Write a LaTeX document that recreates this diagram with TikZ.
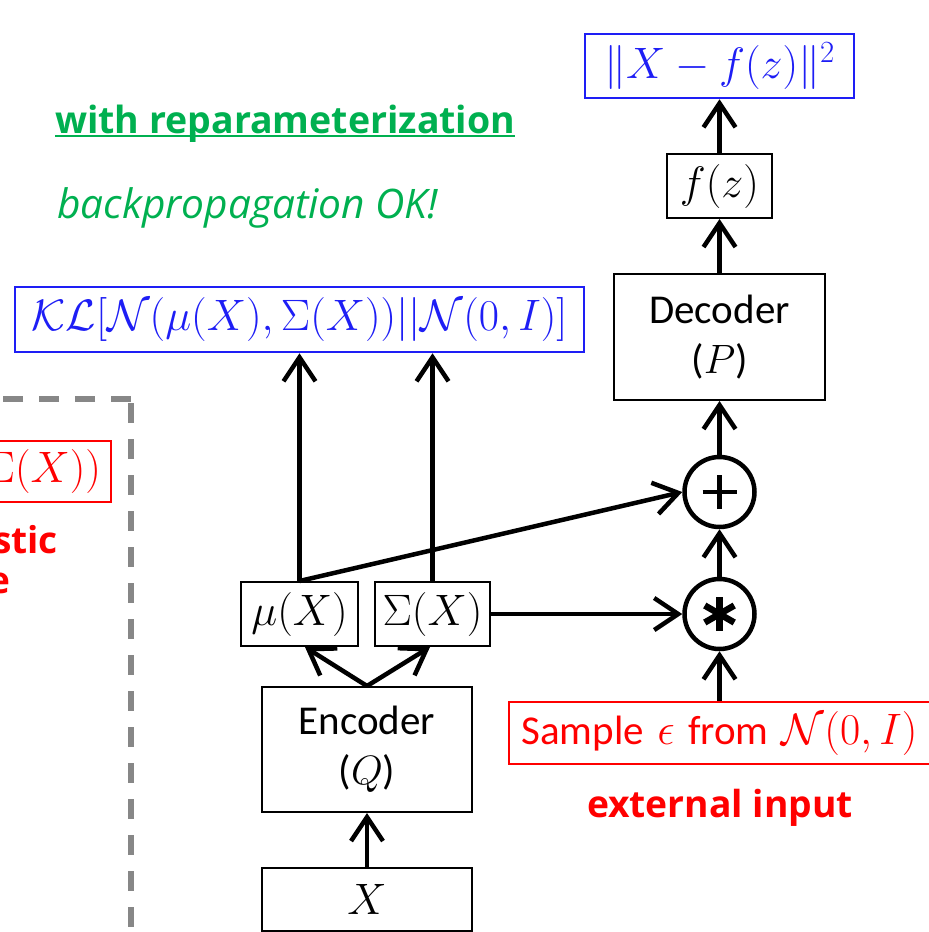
\RequirePackage{fix-cm}
\documentclass[tikz,border=0pt]{standalone}
\usepackage{fontspec}
\usepackage{graphicx}
\setsansfont{Open Sans}
\newfontfamily\calfont{Carlito}
\usetikzlibrary{arrows.meta}
\definecolor{kblue}{RGB}{30,30,245}
\definecolor{kred}{RGB}{255,0,0}
\definecolor{kgreen}{RGB}{0,176,80}
\definecolor{kgray}{RGB}{135,135,135}
\newcommand\mathsz{\fontsize{44}{50}\selectfont}
\newcommand\calsz{\calfont\fontsize{41}{50}\selectfont}
\begin{document}
\begin{tikzpicture}[x=1pt,y=-1pt,
  arr/.style={line width=4.5pt,-{Straight Barb[length=24pt,width=32pt]}},
  box/.style={draw=black,line width=2pt,inner sep=0pt,font=\mathsz},
  textbox/.style={draw=black,line width=2pt,inner sep=0pt,font=\calsz,align=center},
  bluebox/.style={draw=kblue,line width=2.5pt,inner sep=0pt,text=kblue,font=\mathsz},
  redbox/.style={draw=kred,line width=2pt,inner sep=0pt,text=kred,font=\mathsz},
  op/.style={circle,draw=black,line width=4.5pt,minimum size=70pt,inner sep=0pt},
  glyph/.style={line width=4.5pt},
  greentxt/.style={text=kgreen,inner sep=0pt,font=\sffamily},
  redtxt/.style={text=kred,inner sep=0pt,font=\sffamily\bfseries}]
\useasboundingbox (0,0) rectangle (929,932);
\begin{scope}
\clip (0,0) rectangle (929,932);

% left dashed frame (cut off at the picture's edge, as in the reference)
\draw[kgray,line width=6pt,dash pattern=on 20pt off 16pt] (131,399) -- (-30,399);
\draw[kgray,line width=6pt,dash pattern=on 20pt off 16pt] (131,403) -- (131,960);
\node[redbox,anchor=east,minimum height=61pt,inner xsep=10pt] (zsample) at (112,471.5)
  {{\calsz Sample} $z$ {\calsz from} $\mathcal{N}(\mu(X),\Sigma(X))$};
\node[redtxt,anchor=base east,font=\sffamily\bfseries\fontsize{37}{44}\selectfont] (st1) at (58,553) {stochastic};
\node[redtxt,anchor=base,font=\sffamily\bfseries\fontsize{37}{44}\selectfont] (st2) at ([yshift=-40pt]st1.base) {node};

% titles
\node[greentxt,anchor=base west] (title) at (55,133)
  {\resizebox{460pt}{!}{\fontsize{40}{48}\selectfont\bfseries\setbox0\hbox{with reparameterization}\copy0\llap{\rule[-4.5pt]{\wd0}{2.2pt}}}};
\node[greentxt,anchor=base west] (bp) at (57,218)
  {\resizebox{381pt}{!}{\fontsize{36}{44}\selectfont\itshape backpropagation OK!}};

% encoder side
\node[box,minimum width=210pt,minimum height=63pt] (xin) at (367,899.5) {$X$};
\node[textbox,minimum width=210pt,minimum height=125pt] (enc) at (367,749.5) {Encoder\\($Q$)};
\node[box,minimum width=117pt,minimum height=64pt] (mu) at (299.5,614) {$\mu(X)$};
\node[box,minimum width=115pt,minimum height=64pt] (sig) at (432.5,614) {$\Sigma(X)$};
\node[bluebox,minimum width=569pt,minimum height=65pt] (kl) at (299.5,319.5)
  {$\mathcal{K}\mathcal{L}[\mathcal{N}(\mu(X),\Sigma(X))||\mathcal{N}(0,I)]$};

% decoder side
\node[redbox,minimum width=421pt,minimum height=62pt] (sample) at (719.5,733)
  {{\calsz Sample} $\epsilon$ {\calsz from} $\mathcal{N}(0,I)$};
\node[redtxt,anchor=base,font=\sffamily\bfseries] (ext) at (720,817)
  {\resizebox{266pt}{!}{\fontsize{34}{40}\selectfont external input}};
\node[op] (star) at (719.5,614) {};
\node[op] (plus) at (719.5,492) {};
\node[textbox,minimum width=211pt,minimum height=126pt] (dec) at (719.5,337) {Decoder\\($P$)};
\node[box,minimum width=105pt,minimum height=64pt] (fz) at (719.5,186) {$f(z)$};
\node[bluebox,minimum width=269pt,minimum height=64pt] (norm) at (719.5,66) {$\|X-f(z)\|^2$};

% operator glyphs
\draw[glyph] ([xshift=-17pt]plus.center) -- ([xshift=17pt]plus.center);
\draw[glyph] ([yshift=-17pt]plus.center) -- ([yshift=17pt]plus.center);
\foreach \a in {90,30,150}
  \draw[line width=6.5pt] ([shift={(\a:17pt)}]star.center) -- ([shift={(\a+180:17pt)}]star.center);

% connectors
\draw[arr] (xin.north) -- (enc.south);
\draw[arr] (enc.north) -- ([xshift=5.5pt]mu.south);
\draw[arr] (enc.north) -- ([xshift=-2.5pt]sig.south);
\draw[arr] (mu.north) -- (kl.south -| mu.north);
\draw[arr] (sig.north) -- (kl.south -| sig.north);
\draw[arr] (mu.north) -- (plus.west);
\draw[arr] (sig.east) -- (star.west);
\draw[arr] (sample.north) -- (star.south);
\draw[arr] (star.north) -- (plus.south);
\draw[arr] (plus.north) -- (dec.south);
\draw[arr] (dec.north) -- (fz.south);
\draw[arr] (fz.north) -- (norm.south);
\end{scope}
\end{tikzpicture}
\end{document}
